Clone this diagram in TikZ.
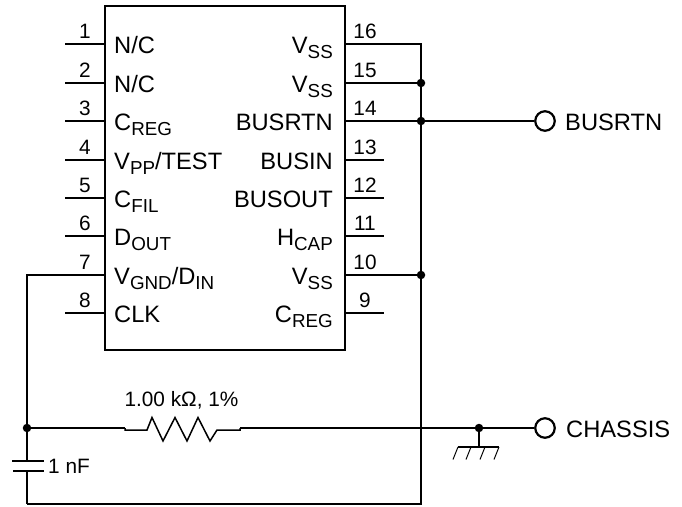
\documentclass[tikz,border=0pt]{standalone}
\usepackage{fontspec}
\setmainfont{Liberation Sans}
\newcommand{\subtxt}[1]{\raisebox{-5.5pt}{\fontsize{18.8}{18.8}\selectfont #1}}
\tikzset{
  x=1pt,y=-1pt,
  wire/.style={line width=1.5pt,line cap=butt},
  chipbox/.style={draw,line width=2.5pt,rectangle,inner sep=0pt,minimum width=240pt,minimum height=344pt},
  lbl/.style={inner sep=0pt,font=\fontsize{23.7}{23.7}\selectfont},
  llab/.style={lbl,anchor=base west},
  rlab/.style={lbl,anchor=base east},
  num/.style={inner sep=0pt,anchor=base,font=\fontsize{20.8}{20.8}\selectfont},
  small/.style={inner sep=0pt,font=\fontsize{20.8}{20.8}\selectfont},
  dot/.style={circle,fill=black,inner sep=0pt,minimum size=8.5pt},
  term/.style={circle,draw,fill=white,line width=2.2pt,inner sep=0pt,minimum size=19.5pt}
}
\begin{document}
\begin{tikzpicture}
\useasboundingbox (0,0) rectangle (682,506);
\node[chipbox] (chip) at (225,178) {};
% left pins
\foreach \n/\y/\t in {1/44/{N/C},2/83/{N/C},3/121/{C\subtxt{REG}},4/160/{V\subtxt{PP}/TEST},5/198/{C\subtxt{FIL}},6/236/{D\subtxt{OUT}},7/275/{V\subtxt{GND}/D\subtxt{IN}},8/313/{CLK}}{
  \coordinate (L\n) at (105,\y);
  \coordinate (LE\n) at (65,\y);
  \node[num] (LN\n) at (85,\y-6) {\n};
  \node[llab] (LT\n) at (114,\y+9) {\t};
}
\foreach \n in {1,2,3,4,5,6,8}{\draw[wire] (LE\n) -- (L\n);}
% right pins
\foreach \n/\y/\t in {16/44/{V\subtxt{SS}},15/83/{V\subtxt{SS}},14/121/{BUSRTN},13/160/{BUSIN},12/198/{BUSOUT},11/236/{H\subtxt{CAP}},10/275/{V\subtxt{SS}},9/313/{C\subtxt{REG}}}{
  \coordinate (R\n) at (345,\y);
  \coordinate (RE\n) at (384,\y);
  \coordinate (B\n) at (421,\y);
  \node[num] (RN\n) at (365,\y-6) {\n};
  \node[rlab] (RT\n) at (333,\y+9) {\t};
}
\foreach \n in {13,12,11,9}{\draw[wire] (R\n) -- (RE\n);}
% bus
\coordinate (busbot) at (421,504);
\coordinate (botleft) at (27,504);
\node[dot] (j15) at (B15) {};
\node[dot] (j14) at (B14) {};
\node[dot] (j10) at (B10) {};
\draw[wire] (R16) -- (B16) -- (busbot) -- (botleft);
\draw[wire] (R15) -- (j15);
\draw[wire] (R10) -- (j10);
\node[term] (tb) at (545,121) {};
\node[llab] (tbl) at (565,130) {BUSRTN};
\draw[wire] (R14) -- (j14) -- (tb);
% left net
\coordinate (leftc) at (27,275);
\node[dot] (jl) at (27,428) {};
\coordinate (captop) at (27,461);
\coordinate (capbot) at (27,471);
\coordinate (cap1a) at (12,461);
\coordinate (cap1b) at (44,461);
\coordinate (cap2a) at (13,471);
\coordinate (cap2b) at (44,471);
\draw[wire] (L7) -- (leftc) -- (jl) -- (captop);
\draw[wire] (capbot) -- (botleft);
\draw[wire] (cap1a) -- (cap1b);
\draw[wire] (cap2a) -- (cap2b);
\node[small,anchor=base west] (capl) at (48,473) {1 nF};
% resistor
\coordinate (r1) at (125,428);
\coordinate (r2) at (240,428);
\draw[wire] (jl) -- (r1);
\draw[line width=1.5pt] (r1) -- (125,430) -- (147,430) -- (152,417.5) -- (163,441) -- (175,417.5) -- (187,441) -- (198,417.5) -- (210,441) -- (217,430) -- (240,430) -- (r2);
\node[small,anchor=base] (rl) at (181.5,406) {1.00 kΩ, 1\%};
% chassis
\node[dot] (jg) at (479,428) {};
\node[term] (tc) at (545,428) {};
\node[llab] (tcl) at (566,437) {CHASSIS};
\draw[wire] (r2) -- (jg) -- (tc);
\coordinate (gnd) at (479,447);
\draw[wire] (jg) -- (gnd);
\draw[line width=1.3pt] (458,447) -- (499,447);
\foreach \x in {458,471,485,499}{\draw[line width=1pt] (\x,447) -- (\x-5,459.5);}
\end{tikzpicture}
\end{document}
